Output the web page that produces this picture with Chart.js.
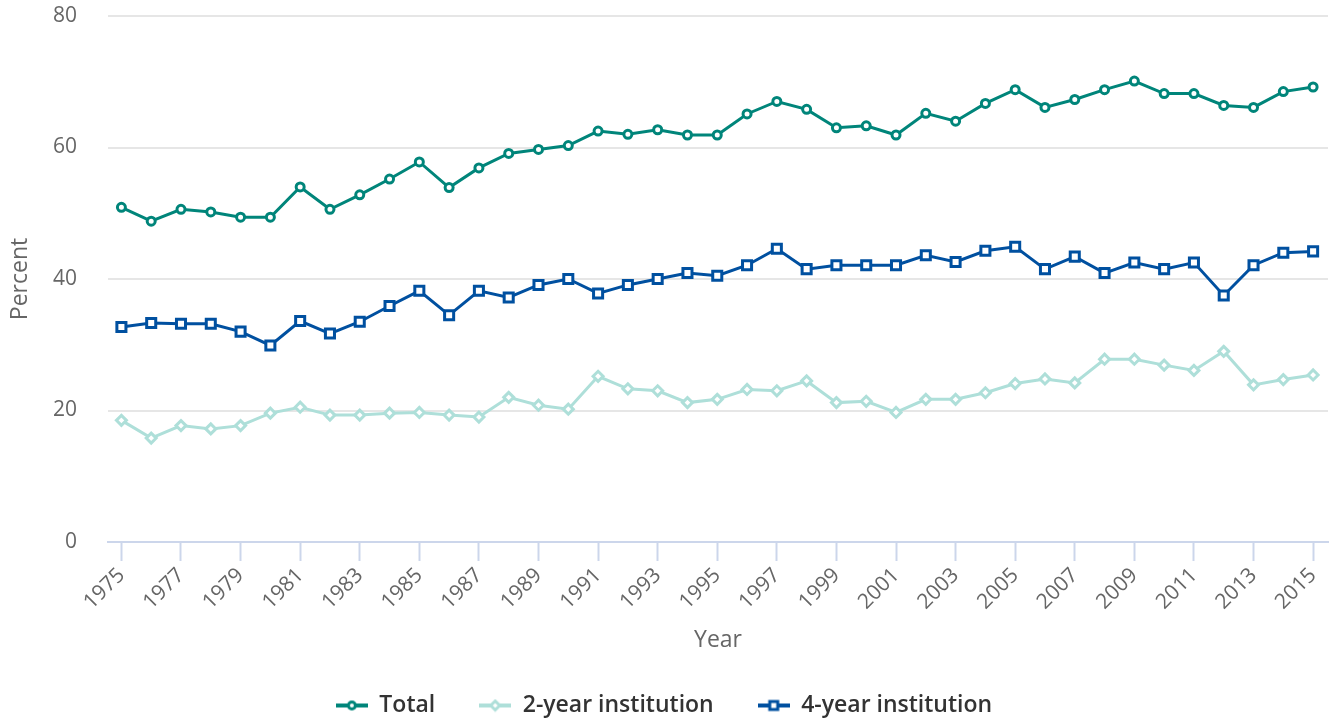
<!doctype html>
<html>
<head>
<meta charset="utf-8" />
<title>Immediate college enrollment rate</title>
<script src="https://cdn.jsdelivr.net/npm/chart.js@4.4.1/dist/chart.umd.min.js"></script>
<style>
  html, body { margin: 0; padding: 0; background: #fff; overflow: hidden; }
  #wrap { width: 1331px; height: 719px; }
  canvas { display: block; }
</style>
</head>
<body>
<div id="wrap"><canvas id="enrollChart" width="1331" height="719"></canvas></div>
<script>
// values (percent)
var years = [1975, 1976, 1977, 1978, 1979, 1980, 1981, 1982, 1983, 1984,
             1985, 1986, 1987, 1988, 1989, 1990, 1991, 1992, 1993, 1994,
             1995, 1996, 1997, 1998, 1999, 2000, 2001, 2002, 2003, 2004,
             2005, 2006, 2007, 2008, 2009, 2010, 2011, 2012, 2013, 2014, 2015];
var total = [50.9, 48.8, 50.6, 50.2, 49.4, 49.4, 54.0, 50.6, 52.8, 55.2,
             57.8, 53.9, 56.9, 59.1, 59.7, 60.3, 62.5, 62.0, 62.7, 61.9,
             61.9, 65.1, 67.0, 65.8, 63.0, 63.3, 61.9, 65.2, 64.0, 66.7,
             68.8, 66.1, 67.3, 68.8, 70.1, 68.2, 68.2, 66.4, 66.1, 68.5, 69.2];
var twoYear = [18.5, 15.8, 17.7, 17.2, 17.7, 19.6, 20.5, 19.3, 19.3, 19.6,
               19.7, 19.3, 19.0, 22.0, 20.8, 20.2, 25.2, 23.3, 23.0, 21.2,
               21.7, 23.2, 23.0, 24.5, 21.2, 21.4, 19.7, 21.7, 21.7, 22.7,
               24.1, 24.8, 24.2, 27.8, 27.8, 26.9, 26.1, 29.0, 23.9, 24.7, 25.4];
var fourYear = [32.7, 33.3, 33.2, 33.2, 32.0, 29.9, 33.6, 31.7, 33.5, 35.9,
                38.2, 34.5, 38.2, 37.2, 39.1, 40.0, 37.8, 39.1, 40.0, 40.9,
                40.5, 42.1, 44.6, 41.5, 42.1, 42.1, 42.1, 43.6, 42.6, 44.3,
                44.9, 41.5, 43.4, 40.9, 42.5, 41.5, 42.5, 37.5, 42.1, 44.0, 44.2];
var xTicks = [1975, 1977, 1979, 1981, 1983, 1985, 1987, 1989, 1991, 1993, 1995,
              1997, 1999, 2001, 2003, 2005, 2007, 2009, 2011, 2013, 2015];
var yTicks = [0, 20, 40, 60, 80];

var colTotal = '#00857a';
var colTwo = '#aedfd9';
var colFour = '#0050a0';

function points(vals) {
    return vals.map(function (v, i) { return { x: years[i], y: v }; });
}

// little line + marker picture for the legend
function legendSymbol(color, style) {
    var c = document.createElement('canvas');
    c.width = 32; c.height = 14;
    var g = c.getContext('2d');
    g.strokeStyle = color;
    g.lineWidth = 4;
    g.beginPath(); g.moveTo(0, 7); g.lineTo(32, 7); g.stroke();
    g.fillStyle = '#fff';
    g.lineWidth = 3;
    g.beginPath();
    if (style === 'circle') g.arc(16, 7, 3.5, 0, Math.PI * 2);
    else if (style === 'rect') g.rect(12, 3, 8, 8);
    else { g.moveTo(16, 2.5); g.lineTo(20.5, 7); g.lineTo(16, 11.5); g.lineTo(11.5, 7); g.closePath(); }
    g.fill(); g.stroke();
    return c;
}
var symbols = [legendSymbol(colTotal, 'circle'), legendSymbol(colTwo, 'diamond'), legendSymbol(colFour, 'rect')];

// keep the plot box where the reference has it
function noPadding(scale) {
    scale.paddingTop = 0; scale.paddingBottom = 0;
    scale.paddingLeft = 0; scale.paddingRight = 0;
}

Chart.defaults.font.family = "'Open Sans', sans-serif";
Chart.defaults.color = '#666666';

var ctx = document.getElementById('enrollChart').getContext('2d');
var myChart = new Chart(ctx, {
    type: 'line',
    data: {
        datasets: [{
            label: 'Total',
            data: points(total),
            borderColor: colTotal,
            borderWidth: 3,
            pointStyle: 'circle',
            pointRadius: 4,
            pointBorderWidth: 3,
            pointBackgroundColor: '#fff',
            pointBorderColor: colTotal
        }, {
            label: '2-year institution',
            data: points(twoYear),
            borderColor: colTwo,
            borderWidth: 3,
            pointStyle: 'rectRot',
            pointRadius: 5,
            pointBorderWidth: 3,
            pointBackgroundColor: '#fff',
            pointBorderColor: colTwo
        }, {
            label: '4-year institution',
            data: points(fourYear),
            borderColor: colFour,
            borderWidth: 3,
            pointStyle: 'rect',
            pointRadius: 6.4,
            pointBorderWidth: 3,
            pointBackgroundColor: '#fff',
            pointBorderColor: colFour
        }]
    },
    options: {
        responsive: false,
        animation: false,
        layout: { autoPadding: false, padding: { top: 16, right: 3, left: 0, bottom: 0 } },
        plugins: {
            tooltip: { enabled: false },
            legend: {
                position: 'bottom',
                maxHeight: 69,
                labels: {
                    usePointStyle: true,
                    pointStyleWidth: 32,
                    padding: 44,
                    color: '#333333',
                    font: { size: 23, weight: 600 },
                    generateLabels: function (chart) {
                        return chart.data.datasets.map(function (ds, i) {
                            return {
                                text: ds.label,
                                pointStyle: symbols[i],
                                fillStyle: 'transparent',
                                strokeStyle: 'transparent',
                                lineWidth: 0,
                                fontColor: '#333333',
                                hidden: false,
                                datasetIndex: i
                            };
                        });
                    }
                }
            }
        },
        scales: {
            x: {
                type: 'linear',
                min: 1974.55,
                max: 2015.5,
                afterBuildTicks: function (axis) {
                    axis.ticks = xTicks.map(function (v) { return { value: v }; });
                },
                afterFit: function (scale) { scale.height = 108; noPadding(scale); },
                border: { color: '#ccd6eb', width: 2 },
                grid: { drawOnChartArea: false, drawTicks: true, tickLength: 19, tickWidth: 2, tickColor: '#ccd6eb' },
                ticks: {
                    autoSkip: false,
                    maxRotation: 45,
                    minRotation: 45,
                    color: '#666666',
                    padding: 2,
                    font: { size: 21 },
                    callback: function (v) { return String(v); }
                },
                title: { display: true, text: 'Year', color: '#666666', font: { size: 23, lineHeight: 1 }, padding: { top: 0, bottom: -2 } }
            },
            y: {
                min: 0,
                max: 80,
                afterBuildTicks: function (axis) {
                    axis.ticks = yTicks.map(function (v) { return { value: v }; });
                },
                afterFit: function (scale) { scale.width = 108; noPadding(scale); },
                border: { display: false },
                grid: {
                    lineWidth: 2,
                    drawTicks: false,
                    color: function (c) { return c.tick && c.tick.value === 0 ? 'transparent' : '#e6e6e6'; }
                },
                ticks: { color: '#666666', padding: 31, font: { size: 21 } },
                title: { display: true, text: 'Percent', color: '#666666', font: { size: 23 }, padding: { top: 7, bottom: 0 } }
            }
        }
    }
});
</script>
</body>
</html>
